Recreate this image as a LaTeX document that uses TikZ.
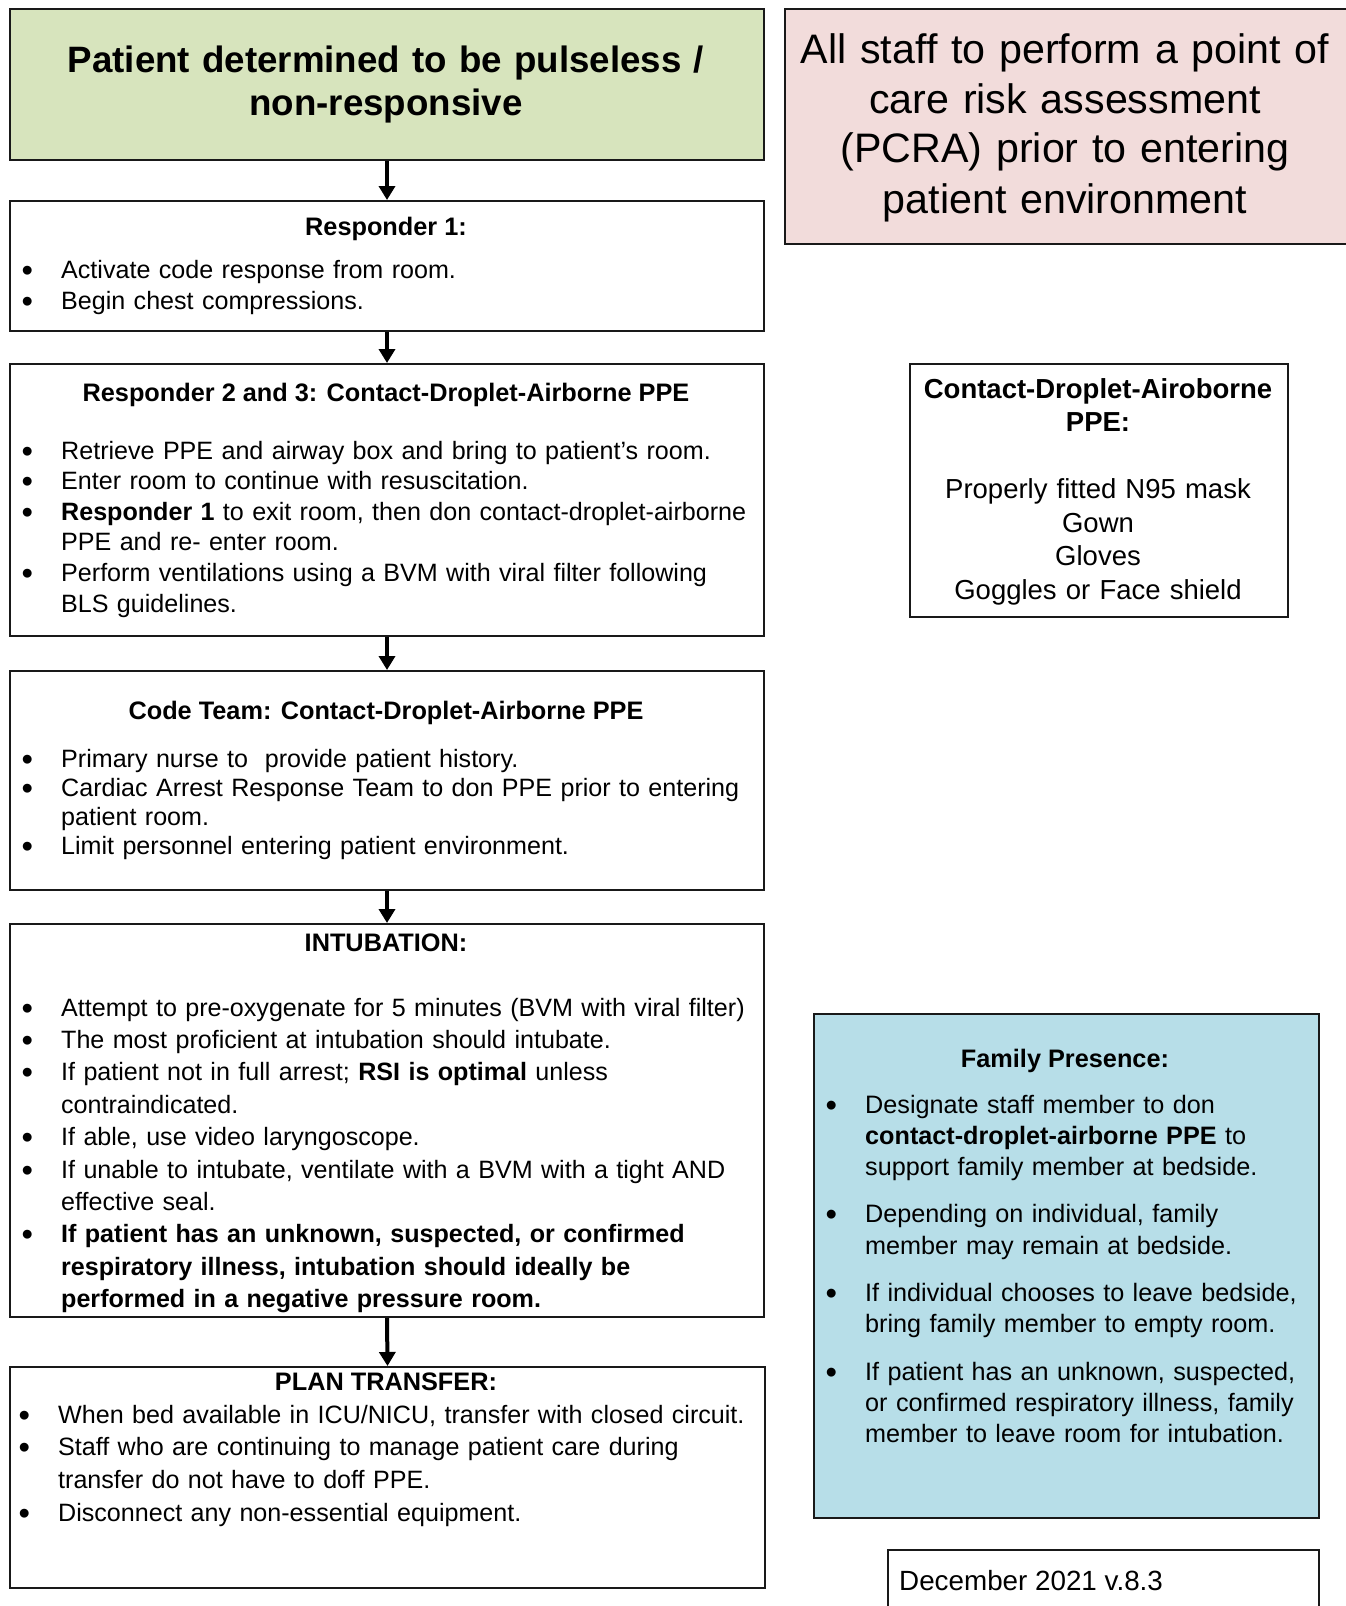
\documentclass[tikz,border=0pt]{standalone}
\usepackage{fontspec}
\setmainfont{Liberation Sans}
\usetikzlibrary{arrows.meta}
\definecolor{gfill}{HTML}{D7E4BD}
\definecolor{pfill}{HTML}{F2DCDB}
\definecolor{bfill}{HTML}{B7DEE8}
\newcommand{\Bu}{\makebox[39.5pt][l]{\smash{\raisebox{-3pt}{\scalebox{1.3}{\textbullet}}}}}
\newcommand{\Co}{\hspace*{39.5pt}}
\begin{document}
\begin{tikzpicture}[x=1pt,y=-1pt,
  box/.style={draw=black!90, line width=2pt, inner sep=0pt, anchor=north west},
  arr/.style={line width=4pt, -{Triangle[width=16pt,length=14pt]}},
  lst/.style={inner sep=0pt, anchor=base west, align=left, text width=1000pt,
    font={\fontsize{25.1pt}{#1pt}\selectfont}},
  ttl/.style={inner sep=0pt, anchor=base, font={\bfseries\fontsize{25.3pt}{31pt}\selectfont}},
  ctr/.style={inner sep=0pt, anchor=base, align=center, text width=#1}
]
\useasboundingbox (0,0) rectangle (1346,1606);

% left column boxes
\node[box, fill=gfill, minimum width=754pt, minimum height=151pt] (g) at (9,8) {};
\node[box, minimum width=754pt, minimum height=130pt] (r1) at (9,200) {};
\node[box, minimum width=754pt, minimum height=272pt] (r23) at (9,363) {};
\node[box, minimum width=754pt, minimum height=219pt] (ct) at (9,670) {};
\node[box, minimum width=754pt, minimum height=393pt] (in) at (9,923) {};
\node[box, minimum width=755pt, minimum height=221pt] (pt) at (9,1366) {};

% right column boxes
\node[box, fill=pfill, minimum width=570pt, minimum height=235pt] (pk) at (784,8) {};
\node[box, minimum width=378pt, minimum height=253pt] (ppe) at (909,363) {};
\node[box, fill=bfill, minimum width=505pt, minimum height=504pt] (fam) at (813,1013) {};
\node[box, minimum width=431pt, minimum height=70pt] (dec) at (887,1549) {};

% arrows
\draw[arr] (g.south) -- (r1.north);
\draw[arr] (r1.south) -- (r23.north);
\draw[arr] (r23.south) -- (ct.north);
\draw[arr] (ct.south) -- (in.north);
\draw[arr] (in.south) -- (pt.north);

% green title
\node[ctr=740pt, font={\bfseries\fontsize{36.7pt}{43pt}\selectfont}] (gt) at (386,72)
  {Patient determined to be pulseless /\\ non-responsive};

% Responder 1
\node[ttl] (t1) at (386,235) {Responder 1:};
\node[lst=31] (l1) at (21.5,278) {\Bu Activate code response from room.\\
\Bu Begin chest compressions.};

% Responder 2 and 3
\node[ttl] (t2) at (386,401) {Responder 2 and 3: Contact-Droplet-Airborne PPE};
\node[lst=30.6] (l2) at (21.5,459) {\Bu Retrieve PPE and airway box and bring to patient’s room.\\
\Bu Enter room to continue with resuscitation.\\
\Bu \textbf{Responder 1} to exit room, then don contact-droplet-airborne\\
\Co PPE and re- enter room.\\
\Bu Perform ventilations using a BVM with viral filter following\\
\Co BLS guidelines.};

% Code team
\node[ttl] (t3) at (386,719) {Code Team: Contact-Droplet-Airborne PPE};
\node[lst=29.3] (l3) at (21.5,767) {\Bu Primary nurse to\ \ provide patient history.\\
\Bu Cardiac Arrest Response Team to don PPE prior to entering\\
\Co patient room.\\
\Bu Limit personnel entering patient environment.};

% Intubation
\node[ttl] (t4) at (386,951) {INTUBATION:};
\node[lst=32.4] (l4) at (21.5,1016) {\Bu Attempt to pre-oxygenate for 5 minutes (BVM with viral filter)\\
\Bu The most proficient at intubation should intubate.\\
\Bu If patient not in full arrest; \textbf{RSI is optimal} unless\\
\Co contraindicated.\\
\Bu If able, use video laryngoscope.\\
\Bu If unable to intubate, ventilate with a BVM with a tight AND\\
\Co effective seal.\\
\Bu \textbf{If patient has an unknown, suspected, or confirmed}\\
\Co \textbf{respiratory illness, intubation should ideally be}\\
\Co \textbf{performed in a negative pressure room.}};

% Plan transfer
\node[ttl] (t5) at (386,1390) {PLAN TRANSFER:};
\node[lst=32.7] (l5) at (18.5,1423) {\Bu When bed available in ICU/NICU, transfer with closed circuit.\\
\Bu Staff who are continuing to manage patient care during\\
\Co transfer do not have to doff PPE.\\
\Bu Disconnect any non-essential equipment.};

% pink text
\node[ctr=560pt, font={\fontsize{41.2pt}{50pt}\selectfont}] (pkt) at (1065,63)
  {All staff to perform a point of\\ care risk assessment\\ (PCRA) prior to entering\\ patient environment};

% PPE box text
\node[ctr=370pt, font={\fontsize{27.5pt}{33.5pt}\selectfont}] (ppet) at (1098,398)
  {\textbf{Contact-Droplet-Airoborne}\\ \textbf{PPE:}\\ \mbox{}\\ Properly fitted N95 mask\\ Gown\\ Gloves\\ Goggles or Face shield};

% Family presence
\node[ttl] (t6) at (1065,1067) {Family Presence:};
\node[lst=31.3, font={\fontsize{25.2pt}{31.3pt}\selectfont}] (l6) at (825.5,1113) {\Bu Designate staff member to don\\
\Co \textbf{contact-droplet-airborne PPE} to\\
\Co support family member at bedside.\\[16pt]
\Bu Depending on individual, family\\
\Co member may remain at bedside.\\[16pt]
\Bu If individual chooses to leave bedside,\\
\Co bring family member to empty room.\\[16pt]
\Bu If patient has an unknown, suspected,\\
\Co or confirmed respiratory illness, family\\
\Co member to leave room for intubation.};

% date
\node[inner sep=0pt, anchor=base west, font={\fontsize{27.8pt}{33pt}\selectfont}] (dt) at (899,1590) {December 2021 v.8.3};
\end{tikzpicture}
\end{document}
